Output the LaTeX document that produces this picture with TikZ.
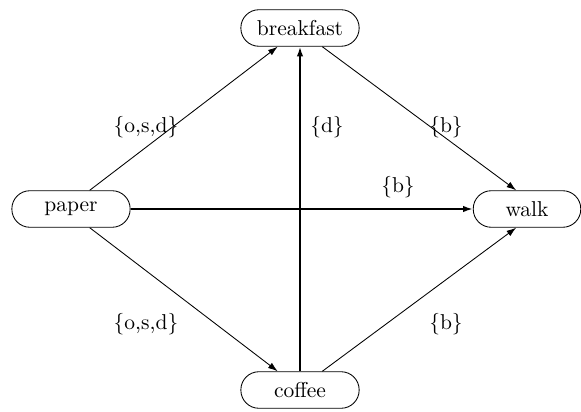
\documentclass[tikz,border=0pt]{standalone}
\usepackage{tikz}
\usetikzlibrary{arrows.meta}

\begin{document}
\begin{tikzpicture}[x=0.465pt, y=-0.465pt,
    activity/.style={draw, rounded corners=8.4pt, minimum width=55pt,
                     minimum height=17pt, inner sep=0pt},
    rel/.style={-{Latex[length=4.5pt, width=3pt]}},
    strong/.style={rel, line width=0.8pt},
    weak/.style={rel, line width=0.4pt}]
  \useasboundingbox (0,0) rectangle (581,412);

  % ── Activities ──
  \node[activity] (breakfast) at (300,28)  {breakfast};
  \node[activity] (paper)     at (71,209)  {paper};
  \node[activity, minimum width=50pt] (walk) at (527,209) {walk};
  \node[activity] (coffee)    at (300,390) {coffee};

  % ── Relations ──
  \draw[weak]   (paper.45)      -- (breakfast.-140);
  \draw[weak]   (paper.-45)     -- (coffee.140);
  \draw[strong] (paper.east)    -- (walk.west);
  \draw[strong] (coffee.north)  -- (breakfast.south);
  \draw[weak]   (breakfast.-40) -- (walk.120);
  \draw[weak]   (coffee.40)     -- (walk.-120);

  % ── Labels ──
  \node (l1) at (146,127) {\{o,s,d\}};
  \node (l2) at (327,127) {\{d\}};
  \node (l3) at (446,127) {\{b\}};
  \node (l4) at (398,187) {\{b\}};
  \node (l5) at (146,324) {\{o,s,d\}};
  \node (l6) at (446,324) {\{b\}};
\end{tikzpicture}
\end{document}
